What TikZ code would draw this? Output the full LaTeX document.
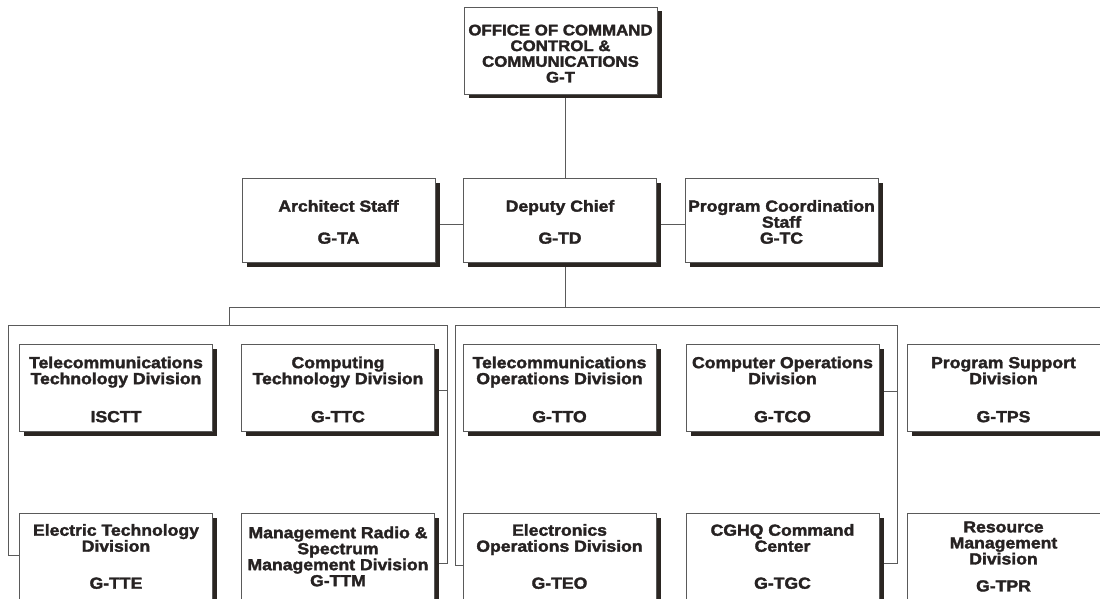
\documentclass[tikz,border=0pt]{standalone}
\usepackage{fontspec}
\setmainfont{Liberation Sans}[FakeStretch=1.1, BoldFeatures={FakeBold=2}]
\usetikzlibrary{shadows,backgrounds}

\definecolor{ink}{HTML}{262222}
\definecolor{rule}{HTML}{5A5A5A}
\definecolor{shade}{HTML}{2B2622}

% invisible strut that pushes the first text line down a little
\newcommand{\toppad}[1]{\rule{0pt}{#1}}

\tikzset{
  unit/.style={draw=rule, line width=0.9pt, fill=white,
    minimum width=193pt, minimum height=87pt, inner sep=0pt,
    align=center, text=ink, font=\bfseries\fontsize{16}{16}\selectfont,
    general shadow={fill=shade, shadow xshift=4.5pt, shadow yshift=-4.5pt}},
  headunit/.style={unit, font=\bfseries\fontsize{15.3}{15.7}\selectfont},
  staffunit/.style={unit, minimum height=84pt},
  link/.style={draw=rule, line width=0.8pt},
}

\begin{document}
\begin{tikzpicture}[x=1pt, y=-1pt]
\useasboundingbox (0,0) rectangle (1100,599);
\clip (0,0) rectangle (1100,599);

% office head
\node[headunit] (gt) at (560.5,50.5) {\toppad{17pt}OFFICE OF COMMAND\\CONTROL \&\\COMMUNICATIONS\\G-T};

% staff row
\node[staffunit] (gta) at (338.5,220) {\toppad{15.5pt}Architect Staff\\[16pt]G-TA};
\node[staffunit] (gtd) at (560,220) {\toppad{15.5pt}Deputy Chief\\[16pt]G-TD};
\node[staffunit] (gtc) at (781.5,220) {\toppad{15.5pt}Program Coordination\\Staff\\G-TC};

% divisions, upper row
\node[unit] (isctt) at (116,387.5) {\toppad{15.5pt}Telecommunications\\Technology Division\\[22pt]ISCTT};
\node[unit] (gttc) at (338,387.5) {\toppad{15.5pt}Computing\\Technology Division\\[22pt]G-TTC};
\node[unit] (gtto) at (559.5,387.5) {\toppad{15.5pt}Telecommunications\\Operations Division\\[22pt]G-TTO};
\node[unit] (gtco) at (782.5,387.5) {\toppad{15.5pt}Computer Operations\\Division\\[22pt]G-TCO};
\node[unit] (gtps) at (1003.5,387.5) {\toppad{15.5pt}Program Support\\Division\\[22pt]G-TPS};

% divisions, lower row
\node[unit] (gtte) at (116,556.5) {Electric Technology\\Division\\[21pt]G-TTE};
\node[unit] (gttm) at (338,556.5) {Management Radio \&\\Spectrum\\Management Division\\G-TTM};
\node[unit] (gteo) at (559.5,556.5) {Electronics\\Operations Division\\[21pt]G-TEO};
\node[unit] (gtgc) at (782.5,556.5) {CGHQ Command\\Center\\[21pt]G-TGC};
\node[unit] (gtpr) at (1003.5,556.5) {Resource\\Management\\Division\\[11pt]G-TPR};

% reference points for the wiring
\coordinate (spine) at (565,0);
\coordinate (row2) at (0,224);
\coordinate (busL) at (229,307);
\coordinate (busR) at (1105,307);
\coordinate (g1tl) at (8,325);
\coordinate (g1tr) at (447,325);
\coordinate (g1bl) at (8,555);
\coordinate (g1br) at (447,563);
\coordinate (g2tl) at (455,325);
\coordinate (g2tr) at (897,325);
\coordinate (g2bl) at (455,565);
\coordinate (g2br) at (897,563);
\coordinate (tapA) at (447,390);
\coordinate (tapB) at (897,391);

\begin{scope}[on background layer]
  \draw[link] (gt.south -| spine) -- (gtd.north -| spine);
  \draw[link] (row2 -| gta.east) -- (row2 -| gtd.west);
  \draw[link] (row2 -| gtd.east) -- (row2 -| gtc.west);
  \draw[link] (gtd.south -| spine) -- (spine |- busL);
  \draw[link] (busL) -- (busR);
  \draw[link] (busL) -- (busL |- g1tl);
  % technology group bracket
  \draw[link] (g1bl -| gtte.west) -- (g1bl) -- (g1tl) -- (g1tr) -- (g1br) -- (g1br -| gttm.east);
  \draw[link] (tapA -| gttc.east) -- (tapA);
  % operations group bracket
  \draw[link] (g2bl -| gteo.west) -- (g2bl) -- (g2tl) -- (g2tr) -- (g2br) -- (g2br -| gtgc.east);
  \draw[link] (tapB -| gtco.east) -- (tapB);
\end{scope}
\end{tikzpicture}
\end{document}
